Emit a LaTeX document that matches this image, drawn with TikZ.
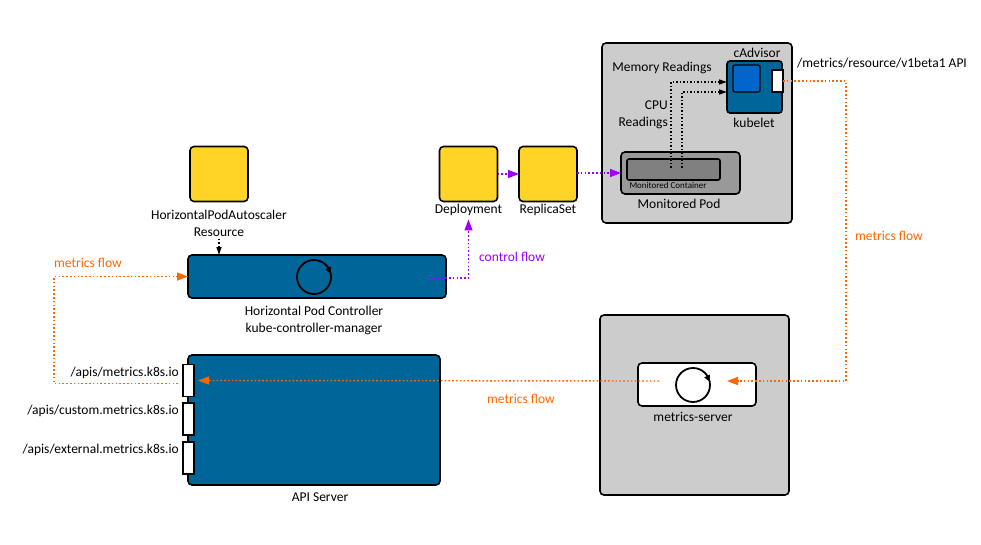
\documentclass[tikz,border=0pt]{standalone}
\usepackage{fontspec}
\setmainfont{Carlito}
\usetikzlibrary{positioning,arrows.meta}

\definecolor{kblue}{RGB}{0,102,153}
\definecolor{kbright}{RGB}{0,102,204}
\definecolor{kyellow}{RGB}{255,212,38}
\definecolor{kgray}{RGB}{204,204,204}
\definecolor{podgray}{RGB}{153,153,153}
\definecolor{ctrgray}{RGB}{128,128,128}
\definecolor{korange}{RGB}{255,102,0}
\definecolor{kpurple}{RGB}{153,0,255}

\tikzset{
  box/.style={draw, line width=1.6pt, rounded corners=4pt, inner sep=0pt, outer sep=0pt},
  res/.style={box, fill=kyellow, minimum width=58pt, minimum height=55pt},
  hostbox/.style={box, fill=kgray, minimum width=190pt, minimum height=180pt},
  svcbox/.style={box, fill=kblue},
  port/.style={draw, line width=1.6pt, fill=white, minimum width=11pt, minimum height=32pt, inner sep=0pt, outer sep=0pt},
  spin/.style={circle, draw, line width=1.8pt, minimum size=34pt, inner sep=0pt, outer sep=0pt},
  spintip/.style={-{Triangle[length=6pt,width=6pt]}, line width=1pt},
  lbl/.style={font=\fontsize{13.5}{17}\selectfont, inner sep=0pt, align=center},
  mflow/.style={korange, line width=1.4pt, dash pattern=on 1.6pt off 2.2pt, -{Triangle[length=11pt,width=8pt]}},
  cflow/.style={kpurple, line width=1.4pt, dash pattern=on 1.6pt off 2.2pt, -{Triangle[length=11pt,width=8pt]}},
  rflow/.style={black, line width=1.2pt, dash pattern=on 1.5pt off 2pt, -{Triangle[length=8pt,width=5pt]}},
}

\begin{document}
\begin{tikzpicture}[x=1pt,y=-1pt]
  \useasboundingbox (0,0) rectangle (981,545);

  % autoscaler resource and controller
  \node[res] (hpa) at (219,174) {};
  \node[lbl] (hpa-txt) at (219,223.5) {HorizontalPodAutoscaler\\Resource};
  \node[svcbox, minimum width=258pt, minimum height=43pt] (hpc) at (317,276.5) {};
  \node[spin] (hpcloop) at (314,277) {};
  \draw[spintip] (hpcloop.40) -- (hpcloop.12);
  \node[lbl] (hpc-txt) at (314,320.5) {Horizontal Pod Controller\\kube-controller-manager};

  % workload resources
  \foreach \n/\x/\t in {dep/468.5/Deployment, rs/548/ReplicaSet} {
    \node[res] (\n) at (\x,174) {};
    \node[lbl] (\n-txt) at (\x,210) {\t};
  }

  % node with kubelet and pod
  \node[hostbox] (node1) at (697,133) {};
  \node[svcbox, minimum width=55pt, minimum height=52pt, rounded corners=3pt] (kubelet) at (754.5,87) {};
  \node[box, fill=kbright, minimum size=27pt, rounded corners=2pt, line width=1.4pt] (cadvisor) at (746.5,78.5) {};
  \node[port, minimum height=22pt] (kport) at (777.5,81) {};
  \node[lbl] (cadvisor-txt) at (757,53) {cAdvisor};
  \node[lbl] (kubelet-txt) at (754,123) {kubelet};
  \node[lbl, anchor=west] (kport-txt) at (797,63) {/metrics/resource/v1beta1 API};
  \node[box, fill=podgray, minimum width=119pt, minimum height=42pt] (pod) at (680.5,173) {};
  \node[box, fill=ctrgray, minimum width=93pt, minimum height=21pt, rounded corners=2pt] (ctr) at (673.5,169.5) {};
  \node[font=\fontsize{9}{10}\selectfont, inner sep=0pt] (ctr-txt) at (668,185.5) {Monitored Container};
  \node[lbl] (pod-txt) at (679,203.5) {Monitored Pod};
  \node[lbl] (mem-txt) at (662,68) {Memory Readings};
  \node[lbl, align=right, anchor=east] (cpu-txt) at (668,114.5) {CPU\\Readings};
  \coordinate (memsrc) at (671,168);
  \coordinate (cpusrc) at (682,168);
  \draw[rflow] (memsrc) |- ([yshift=5pt]kubelet.west);
  \draw[rflow] (cpusrc) |- ([yshift=-5pt]kubelet.west);

  % node with metrics-server
  \node[hostbox, minimum width=189pt] (node2) at (694.5,405) {};
  \node[box, fill=white, minimum width=118pt, minimum height=43pt] (ms) at (697,384.5) {};
  \node[spin] (msloop) at (693,385) {};
  \draw[spintip] (msloop.40) -- (msloop.12);
  \node[lbl] (ms-txt) at (693,417) {metrics-server};

  % api server
  \node[svcbox, minimum width=252pt, minimum height=130pt] (api) at (314,420) {};
  \node[lbl] (api-txt) at (320,497) {API Server};
  \foreach \i/\y/\t in {1/380.5/metrics, 2/419/custom.metrics, 3/458/external.metrics} {
    \node[port] (p\i) at (188.5,\y) {};
    \node[lbl, anchor=east] (p\i-txt) at (179,\y-8) {/apis/\t.k8s.io};
  }

  % flows
  \draw[rflow] ([yshift=-2pt]hpa-txt.south) -- (hpa-txt.south |- hpc.north);
  \draw[cflow] (dep.east) -- (rs.west);
  \draw[cflow] ([yshift=1pt]rs.east) -- ([yshift=1pt]rs.east -| pod.west);
  \draw[cflow] ([xshift=-16pt,yshift=-1.5pt]hpc.east) -| ([yshift=-3.5pt]dep-txt.south);
  \draw[mflow] (kport.east) -- ++(63,0) |- ([xshift=17pt,yshift=4pt]msloop.east);
  \draw[mflow] ([xshift=-17pt,yshift=4pt]msloop.west) -- ([xshift=4pt]p1.east);
  \draw[mflow] ([xshift=-5pt,yshift=-3pt]p1.west) -- ++(-124,0) |- (hpc.west);
  \node[lbl, text=kpurple] (cflow-txt) at (512,257) {control flow};
  \node[lbl, text=korange] (mflow1-txt) at (889,236) {metrics flow};
  \node[lbl, text=korange] (mflow2-txt) at (521,399) {metrics flow};
  \node[lbl, text=korange] (mflow3-txt) at (88,263) {metrics flow};
\end{tikzpicture}
\end{document}
